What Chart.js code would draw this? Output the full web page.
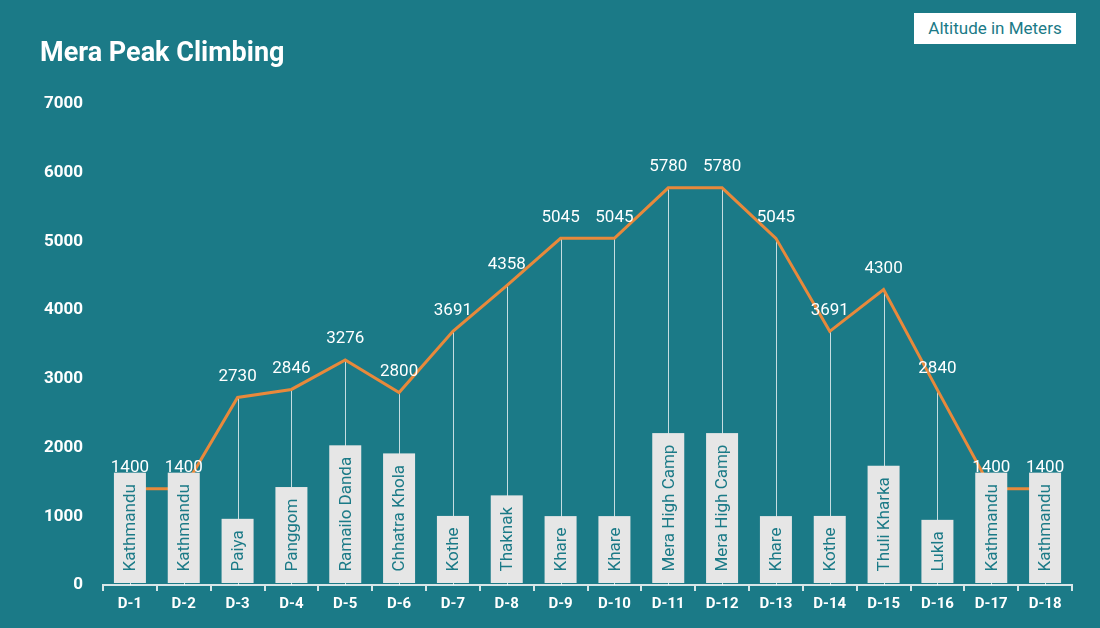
<!DOCTYPE html>
<html>
<head>
<meta charset="utf-8">
<script src="https://cdn.jsdelivr.net/npm/chart.js@4"></script>
<style>
  html, body { margin: 0; padding: 0; background: #1b7a87; }
  #wrap { position: relative; width: 1100px; height: 628px; }
  #title { position: absolute; left: 40px; top: 36px; color: #fff; font: bold 27px Roboto, sans-serif; }
  #legend { position: absolute; left: 914px; top: 13px; width: 162px; height: 31px; background: #fff;
            color: #1b7a87; font: 17px Roboto, sans-serif; line-height: 31px; text-align: center; }
</style>
</head>
<body>
<div id="wrap">
  <canvas id="chart" width="1100" height="628"></canvas>
  <div id="title">Mera Peak Climbing</div>
  <div id="legend">Altitude in Meters</div>
</div>
<script>
// jours et altitudes de l'itinéraire
const days = ['D-1', 'D-2', 'D-3', 'D-4', 'D-5', 'D-6', 'D-7', 'D-8', 'D-9', 'D-10',
              'D-11', 'D-12', 'D-13', 'D-14', 'D-15', 'D-16', 'D-17', 'D-18'];
const altitudes = [1400, 1400, 2730, 2846, 3276, 2800, 3691, 4358, 5045, 5045,
                   5780, 5780, 5045, 3691, 4300, 2840, 1400, 1400];
const places = ['Kathmandu', 'Kathmandu', 'Paiya', 'Panggom', 'Ramailo Danda', 'Chhatra Khola',
                'Kothe', 'Thaknak', 'Khare', 'Khare', 'Mera High Camp', 'Mera High Camp',
                'Khare', 'Kothe', 'Thuli Kharka', 'Lukla', 'Kathmandu', 'Kathmandu'];
const yTicks = [0, 1000, 2000, 3000, 4000, 5000, 6000, 7000];

const teal = '#1b7a87';
const orange = '#e8893b';

// lignes verticales sous chaque point
const dropLines = {
    id: 'dropLines',
    beforeDatasetsDraw(chart) {
        const ctx = chart.ctx;
        const meta = chart.getDatasetMeta(0);
        const bottom = chart.chartArea.bottom;
        ctx.save();
        ctx.strokeStyle = 'rgba(255,255,255,0.75)';
        ctx.lineWidth = 1;
        meta.data.forEach(pt => {
            ctx.beginPath();
            ctx.moveTo(Math.round(pt.x) + 0.5, pt.y);
            ctx.lineTo(Math.round(pt.x) + 0.5, bottom);
            ctx.stroke();
        });
        ctx.restore();
    }
};

// étiquettes des lieux (boîtes grises) + valeurs
const placeLabels = {
    id: 'placeLabels',
    afterDatasetsDraw(chart) {
        const ctx = chart.ctx;
        const meta = chart.getDatasetMeta(0);
        const base = chart.chartArea.bottom - 2;
        ctx.save();
        ctx.font = '17px Roboto, sans-serif';
        meta.data.forEach((pt, i) => {
            const w = ctx.measureText(places[i]).width;
            const h = w + 23;
            const bw = 32;
            ctx.fillStyle = '#e6e6e6';
            ctx.fillRect(pt.x - bw / 2, base - h, bw, h);
            ctx.save();
            ctx.translate(pt.x, base - h / 2);
            ctx.rotate(-Math.PI / 2);
            ctx.fillStyle = teal;
            ctx.textAlign = 'center';
            ctx.textBaseline = 'middle';
            ctx.fillText(places[i], 0, 1);
            ctx.restore();
        });
        ctx.fillStyle = '#ffffff';
        ctx.textAlign = 'center';
        ctx.textBaseline = 'middle';
        meta.data.forEach((pt, i) => {
            ctx.fillText(String(altitudes[i]), pt.x, pt.y - 21);
        });
        ctx.restore();
    }
};

new Chart(document.getElementById('chart').getContext('2d'), {
    type: 'line',
    data: {
        labels: days,
        datasets: [{
            label: 'Altitude in Meters',
            data: altitudes,
            borderColor: orange,
            borderWidth: 3,
            pointRadius: 0,
            tension: 0,
            fill: false
        }]
    },
    options: {
        responsive: false,
        animation: false,
        layout: { padding: { top: 104, left: 10, right: 28, bottom: 0 } },
        plugins: {
            legend: { display: false },
            title: { display: false },
            tooltip: { enabled: false }
        },
        scales: {
            y: {
                min: 0,
                max: 7000,
                afterFit: scale => { scale.width = 93; },
                afterBuildTicks: scale => { scale.ticks = yTicks.map(v => ({ value: v })); },
                grid: { display: false, drawTicks: false },
                border: { display: false },
                ticks: {
                    color: '#ffffff',
                    padding: 20,
                    callback: v => String(v),
                    font: { family: 'Roboto', size: 17, weight: 'bold' }
                }
            },
            x: {
                offset: true,
                afterFit: scale => { scale.height = 43; },
                grid: {
                    offset: true,
                    drawOnChartArea: false,
                    drawTicks: true,
                    tickLength: 6,
                    color: '#d8e6e8',
                    lineWidth: 2
                },
                border: { display: true, color: '#d8e6e8', width: 2 },
                ticks: {
                    color: '#ffffff',
                    padding: 4,
                    maxRotation: 0,
                    autoSkip: false,
                    font: { family: 'Roboto', size: 15, weight: 'bold' }
                }
            }
        }
    },
    plugins: [dropLines, placeLabels]
});
</script>
</body>
</html>
